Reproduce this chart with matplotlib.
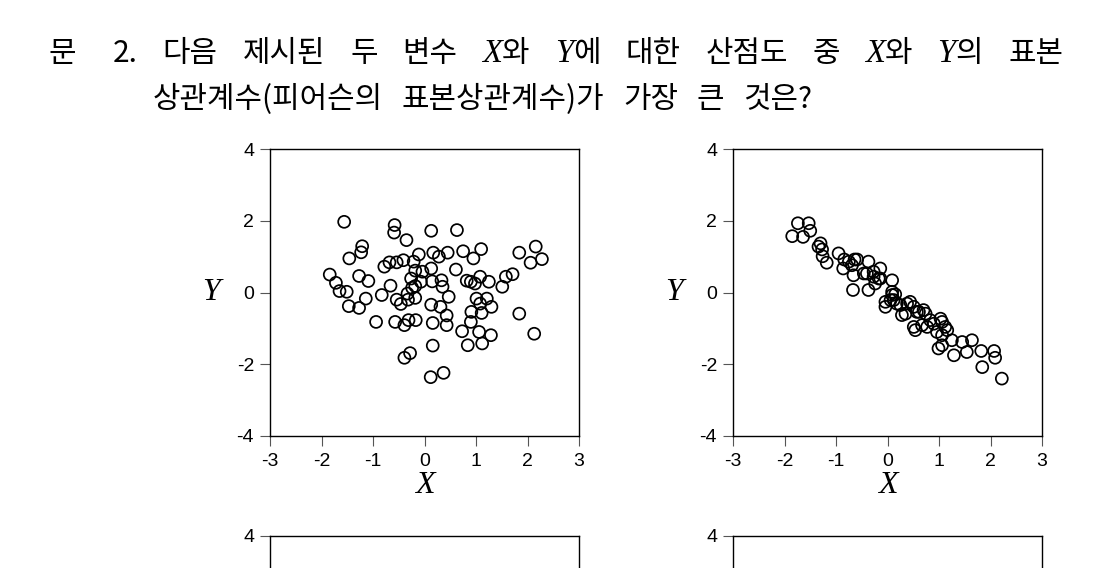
import matplotlib
matplotlib.use("Agg")
import matplotlib.pyplot as plt

# DATA ------------------------------------------------------------------------
left_x = [-1.56, -0.58, -0.59, -0.35, 0.13, 0.63, -1.21, -1.23, -1.46, -1.84,
          -1.72, -1.65, -1.51, -1.47, -1.27, -1.09, -1.14, -1.27, -0.94, -0.83,
          -0.78, -0.68, -0.54, -0.41, -0.66, -0.57, -0.54, -0.46, -0.39, -0.31,
          -0.17, -0.39, -0.28, -0.33, -0.32, -0.18, -0.24, -0.26, -0.21, -0.18,
          -0.11, -0.04, -0.07, 0.13, 0.15, 0.17, 0.28, 0.45, 0.33, 0.35,
          0.13, 0.31, 0.47, 0.43, 0.43, 0.16, 0.16, 0.12, 0.37, 0.61,
          0.75, 0.95, 1.10, 0.82, 0.90, 0.98, 1.08, 1.25, 1.01, 1.08,
          1.21, 1.30, 1.11, 0.91, 0.90, 0.73, 1.06, 1.29, 0.84, 1.12,
          1.51, 1.58, 1.71, 1.84, 2.06, 2.16, 2.28, 1.84, 2.13, -0.18]
left_y = [1.97, 1.88, 1.67, 1.46, 1.72, 1.74, 1.29, 1.12, 0.95, 0.50,
          0.27, 0.04, 0.02, -0.38, 0.46, 0.32, -0.17, -0.43, -0.82, -0.07,
          0.72, 0.84, 0.84, 0.90, 0.19, -0.82, -0.20, -0.32, -0.91, -0.77,
          -0.77, -1.82, -1.69, -0.03, -0.20, -0.15, 0.13, 0.39, 0.86, 0.61,
          1.06, 0.58, 0.30, 0.67, 0.31, 1.11, 1.00, 1.11, 0.34, 0.16,
          -0.34, -0.40, -0.12, -0.64, -0.91, -0.85, -1.48, -2.36, -2.24, 0.64,
          1.15, 0.95, 1.21, 0.33, 0.30, 0.25, 0.44, 0.30, -0.17, -0.31,
          -0.17, -0.40, -0.57, -0.54, -0.82, -1.08, -1.10, -1.19, -1.47, -1.42,
          0.16, 0.44, 0.51, 1.11, 0.83, 1.28, 0.93, -0.59, -1.15, 0.18]

right_x = [-1.85, -1.74, -1.64, -1.53, -1.50, -1.30, -1.34, -1.27, -1.26, -1.18,
           -0.95, -0.84, -0.86, -0.75, -0.69, -0.64, -0.59, -0.66, -0.67, -0.46,
           -0.37, -0.37, -0.40, -0.27, -0.17, -0.24, -0.14, 0.09, -0.04, -0.04,
           0.09, 0.12, 0.18, 0.25, 0.28, 0.38, 0.44, 0.51, 0.61, 0.70,
           0.74, 0.51, 0.54, 0.67, 0.77, 0.83, 0.90, 1.03, 1.06, 1.12,
           0.96, 1.06, 1.16, 0.99, 1.06, 1.25, 1.29, 1.45, 1.64, 1.54,
           1.82, 1.84, 2.07, 2.09, 2.22,
           -0.27, -0.14, 0.09, 0.15, 0.06, 0.35, 0.57]
right_y = [1.57, 1.93, 1.55, 1.93, 1.72, 1.37, 1.28, 1.20, 1.01, 0.83,
           1.09, 0.92, 0.67, 0.86, 0.76, 0.92, 0.92, 0.48, 0.07, 0.53,
           0.86, 0.07, 0.53, 0.44, 0.39, 0.25, 0.67, 0.34, -0.26, -0.40,
           -0.07, -0.21, -0.31, -0.35, -0.63, -0.31, -0.26, -0.40, -0.54, -0.49,
           -0.59, -0.96, -1.05, -0.91, -0.96, -0.77, -0.87, -0.73, -0.82, -0.96,
           -1.10, -1.19, -1.05, -1.56, -1.47, -1.33, -1.75, -1.38, -1.33, -1.66,
           -1.63, -2.08, -1.63, -1.82, -2.40,
           0.58, 0.39, 0.02, -0.05, -0.21, -0.59, -0.54]

x_ticks = [-3, -2, -1, 0, 1, 2, 3]
y_ticks = [-4, -2, 0, 2, 4]

# title pieces: each word is a list of (text, is_italic_var)
line1 = [[("문", False)], [("2.", False)], [("다음", False)], [("제시된", False)],
         [("두", False)], [("변수", False)], [("X", True), ("와", False)],
         [("Y", True), ("에", False)], [("대한", False)], [("산점도", False)],
         [("중", False)], [("X", True), ("와", False)], [("Y", True), ("의", False)],
         [("표본", False)]]
line2 = [[("상관계수(피어슨의", False)], [("표본상관계수)가", False)],
         [("가장", False)], [("큰", False)], [("것은?", False)]]

W, H = 1111, 568
KFONT = ["Noto Sans CJK KR", "DejaVu Sans"]
VFONT = "Liberation Serif"
TFONT = ["Liberation Sans", "DejaVu Sans"]
TSIZE = 21.5
TICK_SIZE = 14

fig = plt.figure(figsize=(W / 100, H / 100), dpi=100)
renderer = fig.canvas.get_renderer()


def make_axes(left_px, top_px, with_data=None, full=True):
    aw, ah = 309, 287
    ax = fig.add_axes([left_px / W, 1 - (top_px + ah) / H, aw / W, ah / H])
    if with_data is not None:
        ax.scatter(with_data[0], with_data[1], s=74, facecolors="none",
                   edgecolors="black", linewidths=1.25, zorder=3)
    ax.set_xlim(-3, 3)
    ax.set_ylim(-4, 4)
    ax.set_xticks(x_ticks)
    ax.set_yticks(y_ticks)
    if full:
        ax.set_xticklabels([str(v) for v in x_ticks], family=TFONT, fontsize=TICK_SIZE)
        ax.set_yticklabels([str(v) for v in y_ticks], family=TFONT, fontsize=TICK_SIZE)
        ax.set_xlabel("X", family=VFONT, style="italic", fontsize=23, va="center")
        ax.set_ylabel("Y", family=VFONT, style="italic", fontsize=23,
                      rotation=0, ha="center", va="center")
        ax.xaxis.set_label_coords(0.5, -0.174)
        ax.yaxis.set_label_coords(-0.19, 0.5)
    else:
        # only the top of this row is inside the picture
        ax.set_xticklabels([])
        ax.set_yticklabels([str(v) if v == 4 else "" for v in y_ticks],
                           family=TFONT, fontsize=TICK_SIZE)
    ax.tick_params(direction="out", length=7, width=0.8, color="#555555")
    ax.tick_params(axis="x", pad=5)
    ax.tick_params(axis="y", pad=4.5)
    for sp in ax.spines.values():
        sp.set_linewidth(1.0)
        sp.set_color("black")
    return ax


make_axes(270, 149, (left_x, left_y))
make_axes(733, 149, (right_x, right_y))
make_axes(270, 536, full=False)
make_axes(733, 536, full=False)


def piece_text(s, italic):
    if italic:
        return fig.text(0, 0, s, family=VFONT, style="italic", fontsize=TSIZE + 2,
                        va="baseline", ha="left")
    return fig.text(0, 0, s, family=KFONT, fontsize=TSIZE, va="baseline", ha="left")


def lay_line(words, x0, y_base, x1, weights=None):
    texts = []
    total = 0
    for word in words:
        row = []
        for s, it in word:
            t = piece_text(s, it)
            w = t.get_window_extent(renderer).width
            row.append((t, w))
            total += w
        texts.append(row)
    if weights is None:
        weights = [1] * (len(words) - 1)
    gap = (x1 - x0 - total) / sum(weights)
    x = x0
    for i, row in enumerate(texts):
        for t, w in row:
            t.set_position((x / W, 1 - y_base / H))
            x += w
        if i < len(weights):
            x += gap * weights[i]


lay_line(line1, 48, 62, 1063, weights=[1.5] + [1] * 12)
lay_line(line2, 153, 108, 812)

fig.savefig("out.png", dpi=100)
